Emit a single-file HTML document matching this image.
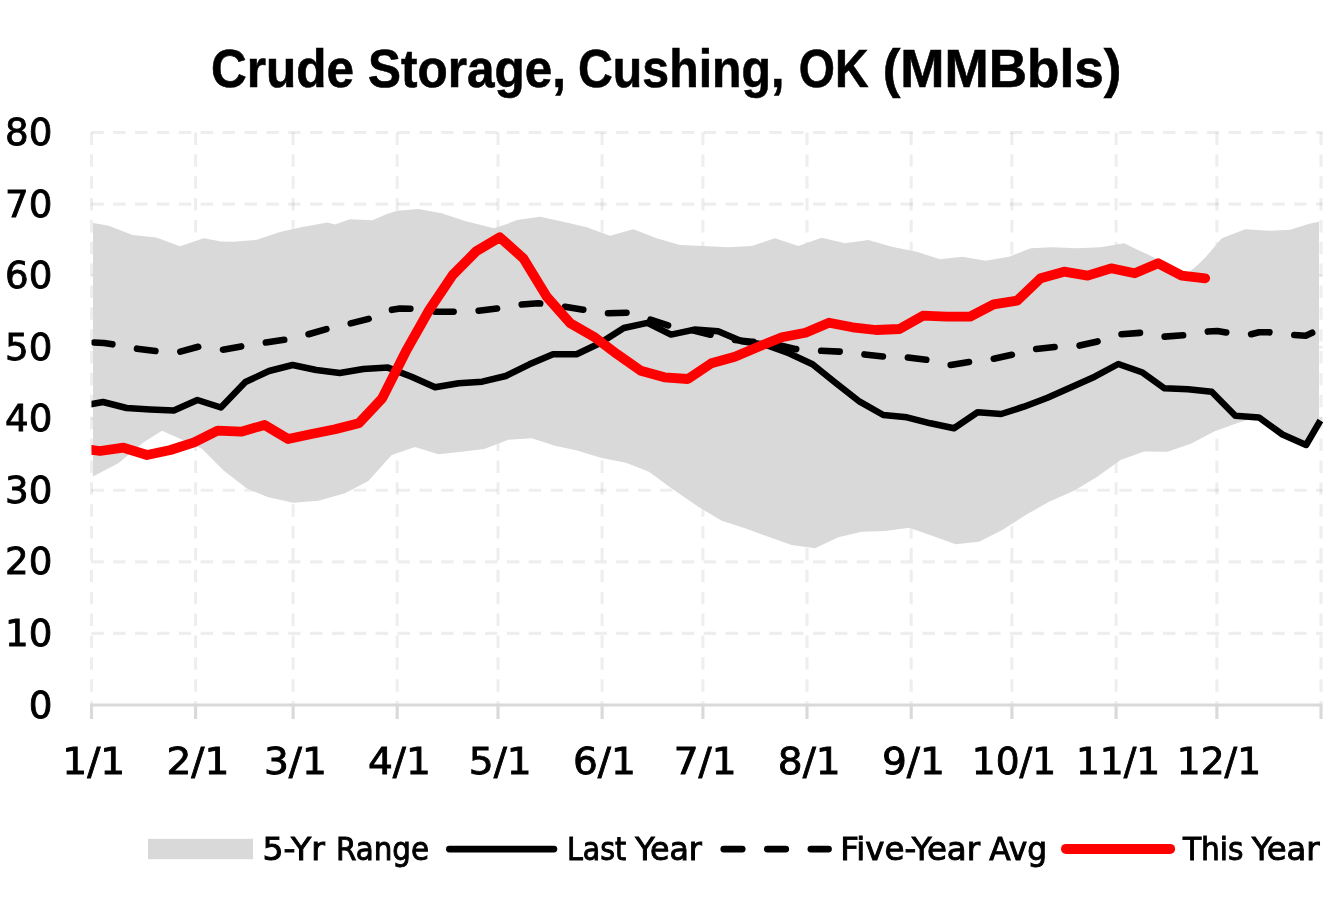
<!DOCTYPE html>
<html lang="en">
<head>
<meta charset="utf-8">
<title>Crude Storage, Cushing, OK (MMBbls)</title>
<style>
html,body{margin:0;padding:0;background:#fff;}
body{width:1333px;height:900px;overflow:hidden;}
svg{display:block;}
text{font-family:"Liberation Sans",sans-serif;fill:#000;stroke:#000;}
.t{font-weight:bold;font-size:53px;stroke-width:0.6px;}
.a{font-family:"DejaVu Sans Condensed","Liberation Sans",sans-serif;font-size:37.7px;stroke-width:0.8px;}
.l{font-family:"DejaVu Sans Condensed","Liberation Sans",sans-serif;font-size:32.5px;stroke-width:0.9px;}
.g{stroke:#000;stroke-opacity:0.067;stroke-width:3.1;stroke-dasharray:12.5 9.37;fill:none;}
</style>
</head>
<body>
<svg width="1333" height="900" viewBox="0 0 1333 900">
<defs><clipPath id="pa"><rect x="91.5" y="120" width="1240" height="590"/></clipPath></defs>
<rect width="1333" height="900" fill="#fff"/>
<g class="g">
<line x1="91.3" y1="633.4" x2="1322.5" y2="633.4"/>
<line x1="91.3" y1="561.9" x2="1322.5" y2="561.9"/>
<line x1="91.3" y1="490.3" x2="1322.5" y2="490.3"/>
<line x1="91.3" y1="418.8" x2="1322.5" y2="418.8"/>
<line x1="91.3" y1="347.2" x2="1322.5" y2="347.2"/>
<line x1="91.3" y1="275.6" x2="1322.5" y2="275.6"/>
<line x1="91.3" y1="204.1" x2="1322.5" y2="204.1"/>
<line x1="91.3" y1="132.5" x2="1322.5" y2="132.5"/>
<line x1="91.5" y1="132.4" x2="91.5" y2="705.0"/>
<line x1="195.6" y1="132.4" x2="195.6" y2="705.0"/>
<line x1="293.1" y1="132.4" x2="293.1" y2="705.0"/>
<line x1="397.2" y1="132.4" x2="397.2" y2="705.0"/>
<line x1="498.0" y1="132.4" x2="498.0" y2="705.0"/>
<line x1="602.1" y1="132.4" x2="602.1" y2="705.0"/>
<line x1="702.9" y1="132.4" x2="702.9" y2="705.0"/>
<line x1="807.0" y1="132.4" x2="807.0" y2="705.0"/>
<line x1="911.2" y1="132.4" x2="911.2" y2="705.0"/>
<line x1="1011.9" y1="132.4" x2="1011.9" y2="705.0"/>
<line x1="1116.1" y1="132.4" x2="1116.1" y2="705.0"/>
<line x1="1216.9" y1="132.4" x2="1216.9" y2="705.0"/>
<line x1="1321.0" y1="132.4" x2="1321.0" y2="705.0"/>
</g>
<polygon fill="#d9d9d9" points="93.0,223.0 108.8,225.8 132.5,235.0 156.2,237.5 180.0,246.2 203.8,238.2 221.2,241.5 232.5,241.8 256.2,240.0 280.0,232.0 302.5,227.0 327.5,222.5 335.0,224.5 350.0,219.2 372.5,220.2 387.5,213.8 397.5,210.8 418.3,209.0 441.7,213.3 465.0,221.0 494.0,228.3 507.0,224.0 517.0,220.0 540.0,216.7 563.3,221.7 586.7,227.3 610.0,235.7 633.3,229.3 656.7,238.3 680.0,245.0 703.3,246.0 728.3,247.3 751.7,246.0 775.0,238.3 798.3,246.0 821.7,237.7 845.0,243.3 868.3,240.0 891.7,246.7 916.7,251.7 940.0,259.3 962.3,256.7 985.7,260.7 1009.0,256.7 1030.7,248.3 1052.3,247.3 1077.3,248.3 1100.7,247.3 1124.3,243.3 1134.3,248.3 1147.3,254.3 1158.5,259.7 1180.0,272.5 1189.3,272.0 1197.7,265.0 1206.0,256.7 1221.8,238.3 1245.2,229.2 1269.3,230.8 1290.2,229.7 1309.3,223.7 1319.0,221.7 1319.0,423.0 1306.0,445.0 1282.7,435.0 1259.3,417.5 1250.0,419.0 1237.5,423.0 1214.2,431.5 1190.8,443.7 1167.5,451.7 1144.2,451.5 1120.5,460.0 1097.3,476.7 1074.0,490.7 1049.0,501.7 1025.7,515.0 1002.3,530.0 979.0,541.7 955.7,544.3 932.8,536.0 909.3,527.7 885.0,531.0 861.7,531.7 838.3,537.3 815.0,548.3 791.7,545.0 768.3,536.7 745.0,528.3 721.7,520.7 698.3,506.7 671.0,488.0 649.0,471.7 626.0,462.7 601.7,458.0 577.0,450.5 555.0,445.7 531.7,438.3 508.3,439.7 484.0,449.0 461.7,451.7 438.3,454.2 415.0,447.0 391.7,455.0 368.3,481.0 345.0,493.3 318.3,500.7 293.3,502.7 268.3,497.3 246.5,488.3 223.3,470.3 201.7,448.6 185.0,441.0 162.0,430.8 143.3,442.5 118.3,463.3 93.0,476.4"/>
<g stroke="#d9d9d9" stroke-width="3.1" fill="none">
<line x1="90.0" y1="705.0" x2="1322.5" y2="705.0"/>
<line x1="91.5" y1="705.0" x2="91.5" y2="719"/>
<line x1="195.6" y1="705.0" x2="195.6" y2="719"/>
<line x1="293.1" y1="705.0" x2="293.1" y2="719"/>
<line x1="397.2" y1="705.0" x2="397.2" y2="719"/>
<line x1="498.0" y1="705.0" x2="498.0" y2="719"/>
<line x1="602.1" y1="705.0" x2="602.1" y2="719"/>
<line x1="702.9" y1="705.0" x2="702.9" y2="719"/>
<line x1="807.0" y1="705.0" x2="807.0" y2="719"/>
<line x1="911.2" y1="705.0" x2="911.2" y2="719"/>
<line x1="1011.9" y1="705.0" x2="1011.9" y2="719"/>
<line x1="1116.1" y1="705.0" x2="1116.1" y2="719"/>
<line x1="1216.9" y1="705.0" x2="1216.9" y2="719"/>
<line x1="1321.0" y1="705.0" x2="1321.0" y2="719"/>
</g>
<g clip-path="url(#pa)" fill="none" stroke-linejoin="round">
<polyline stroke="#000" stroke-width="6.5" points="80.0,406.5 92.0,404.0 103.0,402.0 126.6,408.0 150.2,409.5 173.8,410.5 197.4,400.0 220.9,407.5 245.4,382.0 269.0,371.0 292.6,365.0 316.2,370.0 339.8,373.0 363.4,369.0 387.9,367.6 411.5,376.7 435.1,387.3 458.7,383.3 482.2,381.7 505.8,376.0 529.4,364.3 553.0,354.3 576.6,354.3 600.2,343.0 623.8,328.0 647.4,322.8 671.0,334.6 694.5,329.6 718.1,331.3 741.7,341.3 765.3,344.6 788.9,353.3 812.5,364.3 836.1,383.3 859.7,401.7 883.3,415.0 906.9,417.3 930.4,423.3 954.0,428.3 977.6,412.3 1001.2,414.0 1023.9,406.7 1047.5,397.7 1071.1,387.3 1094.7,376.7 1118.3,364.0 1141.9,372.2 1164.5,388.3 1188.1,389.3 1211.7,391.7 1235.3,415.7 1258.9,417.4 1282.5,434.5 1306.1,445.0 1320.4,420.5"/>
<polyline stroke="#000" stroke-width="6.6" stroke-linecap="round" stroke-dasharray="18.5 25.03" points="94.0,342.5 104.0,343.0 120.0,345.5 135.5,348.5 155.5,351.0 179.0,352.0 198.5,346.7 221.5,350.0 242.0,346.3 264.5,342.7 285.0,339.7 308.0,334.4 327.0,329.0 349.5,323.7 370.0,318.5 391.0,310.0 400.0,308.5 411.0,308.7 420.0,309.0 435.0,311.7 453.3,311.7 478.3,310.7 498.3,308.3 521.0,304.5 538.3,303.3 565.0,306.7 585.0,310.0 606.7,313.3 628.3,312.7 648.3,319.0 670.0,326.0 691.7,330.0 711.7,335.0 735.0,340.0 751.7,341.7 771.7,343.3 795.0,349.0 818.3,350.7 841.7,351.7 863.3,354.3 885.0,356.7 906.7,357.3 928.3,360.0 950.7,365.0 970.7,361.7 992.3,359.0 1014.0,354.3 1035.7,349.0 1057.3,346.7 1079.0,345.7 1100.7,340.7 1120.7,334.3 1142.3,332.7 1164.0,336.7 1185.7,335.0 1205.7,331.7 1217.3,331.0 1227.3,332.7 1250.7,334.3 1259.0,332.3 1269.0,332.3 1294.0,335.0 1305.7,335.7 1312.6,332.6"/>
</g>
<polyline fill="none" stroke="#f00" stroke-width="9.8" stroke-linejoin="round" stroke-linecap="round" clip-path="url(#pa)" points="84.0,449.5 92.3,450.0 100.0,451.0 123.5,447.7 147.0,455.0 170.5,450.0 194.1,442.3 217.6,430.7 241.1,431.7 264.6,425.0 288.1,439.0 311.6,434.0 335.1,429.3 358.7,423.3 382.2,398.3 405.7,351.7 429.2,310.0 452.7,275.0 476.2,251.3 499.8,237.3 523.3,258.3 546.8,296.7 570.3,323.3 593.8,336.7 617.3,354.3 640.8,370.7 664.4,377.3 687.9,379.0 711.4,363.3 734.9,356.7 758.4,346.7 781.9,337.3 805.5,332.7 829.0,322.7 852.5,327.3 876.0,330.0 899.5,329.0 923.0,315.7 946.5,316.7 970.1,316.7 993.6,304.3 1017.1,300.7 1040.6,278.3 1064.1,271.7 1087.6,275.7 1111.1,268.3 1134.7,273.3 1158.2,263.3 1181.7,275.7 1205.2,278.3"/>
<text class="t" y="87.3"><tspan x="210.9" textLength="143.1" lengthAdjust="spacingAndGlyphs">Crude</tspan> <tspan x="368.1" textLength="198.0" lengthAdjust="spacingAndGlyphs">Storage,</tspan> <tspan x="578.0" textLength="206.4" lengthAdjust="spacingAndGlyphs">Cushing,</tspan> <tspan x="798.7" textLength="69.8" lengthAdjust="spacingAndGlyphs">OK</tspan> <tspan x="882.7" textLength="238.8" lengthAdjust="spacingAndGlyphs">(MMBbls)</tspan></text>
<text class="l" y="860.0"><tspan x="262.4" textLength="62.4" lengthAdjust="spacingAndGlyphs">5-Yr</tspan> <tspan x="336.1" textLength="93.0" lengthAdjust="spacingAndGlyphs">Range</tspan></text>
<text class="l" y="860.0"><tspan x="566.9" textLength="59.3" lengthAdjust="spacingAndGlyphs">Last</tspan> <tspan x="635.3" textLength="66.6" lengthAdjust="spacingAndGlyphs">Year</tspan></text>
<text class="l" y="860.0"><tspan x="840.2" textLength="139.9" lengthAdjust="spacingAndGlyphs">Five-Year</tspan> <tspan x="989.3" textLength="57.7" lengthAdjust="spacingAndGlyphs">Avg</tspan></text>
<text class="l" y="860.0"><tspan x="1182.9" textLength="60.6" lengthAdjust="spacingAndGlyphs">This</tspan> <tspan x="1251.7" textLength="67.9" lengthAdjust="spacingAndGlyphs">Year</tspan></text>
<text class="a" x="62.3" y="774.0" textLength="62.9" lengthAdjust="spacingAndGlyphs">1/1</text>
<text class="a" x="166.4" y="774.0" textLength="62.9" lengthAdjust="spacingAndGlyphs">2/1</text>
<text class="a" x="263.9" y="774.0" textLength="62.9" lengthAdjust="spacingAndGlyphs">3/1</text>
<text class="a" x="368.0" y="774.0" textLength="62.9" lengthAdjust="spacingAndGlyphs">4/1</text>
<text class="a" x="468.8" y="774.0" textLength="62.9" lengthAdjust="spacingAndGlyphs">5/1</text>
<text class="a" x="572.9" y="774.0" textLength="62.9" lengthAdjust="spacingAndGlyphs">6/1</text>
<text class="a" x="673.7" y="774.0" textLength="62.9" lengthAdjust="spacingAndGlyphs">7/1</text>
<text class="a" x="777.8" y="774.0" textLength="62.9" lengthAdjust="spacingAndGlyphs">8/1</text>
<text class="a" x="882.0" y="774.0" textLength="62.9" lengthAdjust="spacingAndGlyphs">9/1</text>
<text class="a" x="971.8" y="774.0" textLength="84.2" lengthAdjust="spacingAndGlyphs">10/1</text>
<text class="a" x="1076.0" y="774.0" textLength="84.2" lengthAdjust="spacingAndGlyphs">11/1</text>
<text class="a" x="1176.8" y="774.0" textLength="84.2" lengthAdjust="spacingAndGlyphs">12/1</text>
<text class="a" x="28.7" y="717.5" textLength="23.7" lengthAdjust="spacingAndGlyphs">0</text>
<text class="a" x="5.1" y="645.9" textLength="47.3" lengthAdjust="spacingAndGlyphs">10</text>
<text class="a" x="5.1" y="574.4" textLength="47.3" lengthAdjust="spacingAndGlyphs">20</text>
<text class="a" x="5.1" y="502.8" textLength="47.3" lengthAdjust="spacingAndGlyphs">30</text>
<text class="a" x="5.1" y="431.3" textLength="47.3" lengthAdjust="spacingAndGlyphs">40</text>
<text class="a" x="5.1" y="359.7" textLength="47.3" lengthAdjust="spacingAndGlyphs">50</text>
<text class="a" x="5.1" y="288.1" textLength="47.3" lengthAdjust="spacingAndGlyphs">60</text>
<text class="a" x="5.1" y="216.6" textLength="47.3" lengthAdjust="spacingAndGlyphs">70</text>
<text class="a" x="5.1" y="145.0" textLength="47.3" lengthAdjust="spacingAndGlyphs">80</text>
<rect x="148" y="838.8" width="105" height="20.4" fill="#d9d9d9"/>
<line x1="449.4" y1="849.1" x2="553.9" y2="849.1" stroke="#000" stroke-width="6.8" stroke-linecap="round"/>
<line x1="723.8" y1="849.1" x2="828.5" y2="849.1" stroke="#000" stroke-width="6.8" stroke-linecap="round" stroke-dasharray="18.4 25.15"/>
<line x1="1066" y1="848.9" x2="1170.1" y2="848.9" stroke="#f00" stroke-width="10" stroke-linecap="round"/>
</svg>
</body>
</html>
